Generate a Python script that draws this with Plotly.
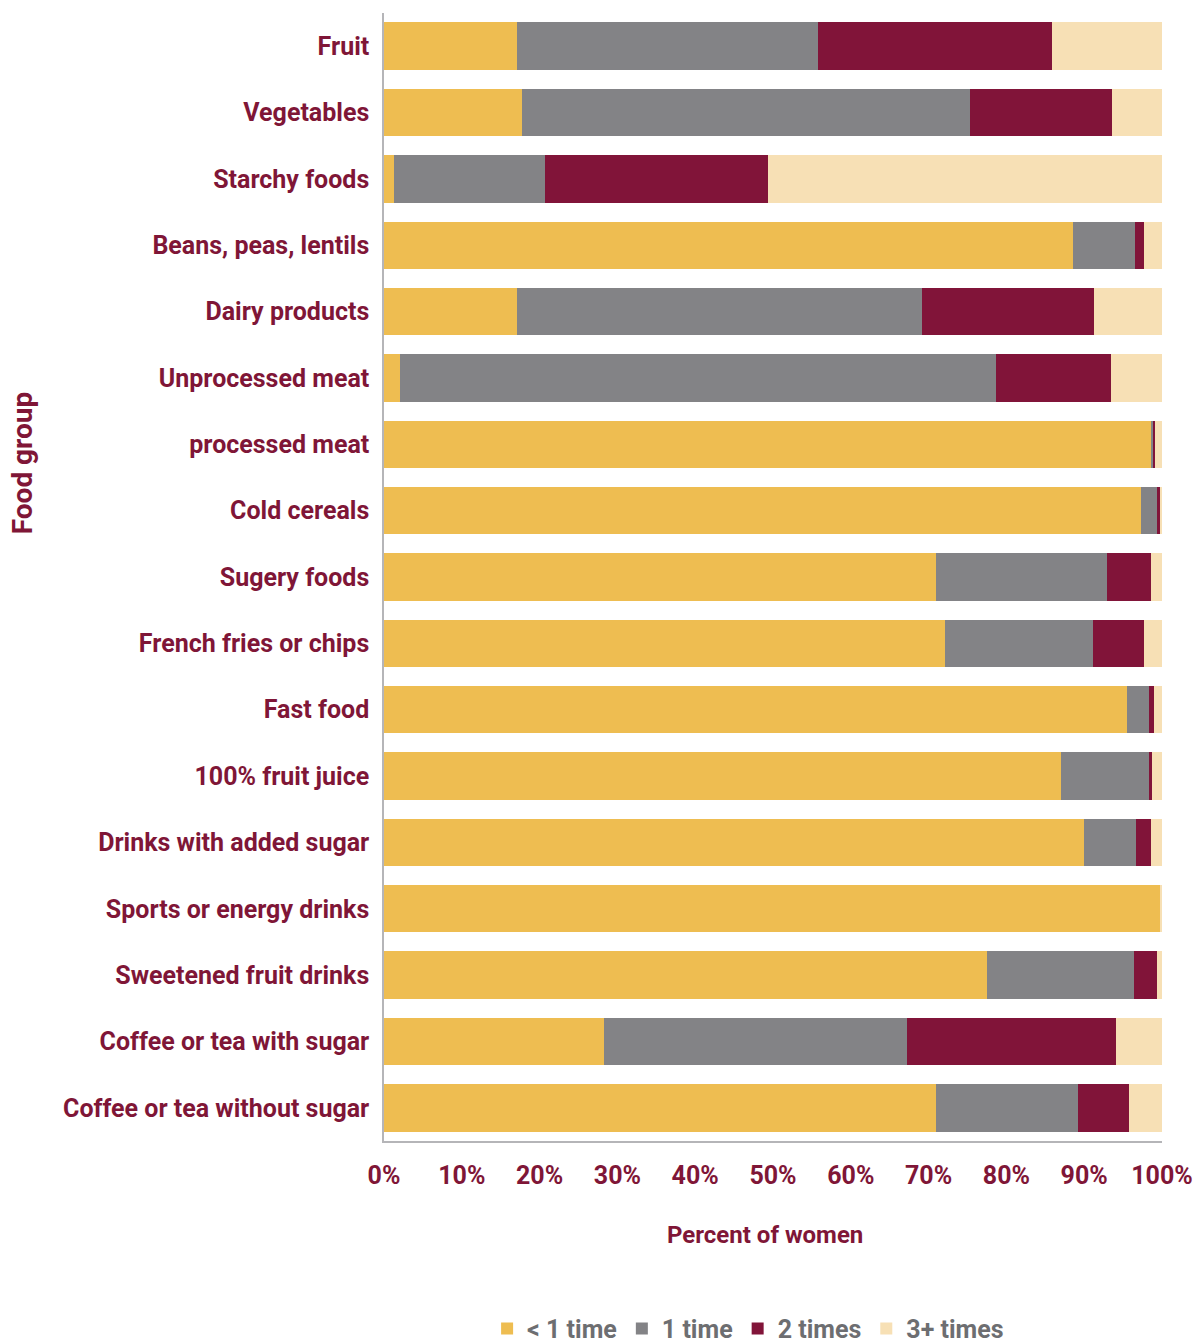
import plotly.graph_objects as go

# Food groups, top to bottom
food_groups = [
    "Fruit", "Vegetables", "Starchy foods", "Beans, peas, lentils",
    "Dairy products", "Unprocessed meat", "processed meat", "Cold cereals",
    "Sugery foods", "French fries or chips", "Fast food", "100% fruit juice",
    "Drinks with added sugar", "Sports or energy drinks",
    "Sweetened fruit drinks", "Coffee or tea with sugar",
    "Coffee or tea without sugar",
]

# Share of women (%) by how often each food group was eaten
less_than_once = [17.1, 17.8, 1.3, 88.6, 17.1, 2.1, 98.6, 97.3, 70.9, 72.1,
                  95.5, 87.0, 90.0, 99.7, 77.5, 28.3, 70.9]
once = [38.7, 57.5, 19.4, 7.9, 52.1, 76.5, 0.2, 2.1, 22.0, 19.0,
        2.8, 11.3, 6.6, 0.0, 18.9, 38.9, 18.3]
twice = [30.1, 18.3, 28.7, 1.2, 22.0, 14.8, 0.3, 0.3, 5.7, 6.6,
         0.7, 0.4, 2.0, 0.0, 2.9, 26.9, 6.6]
three_plus = [14.1, 6.4, 50.6, 2.3, 8.8, 6.6, 0.9, 0.3, 1.4, 2.3,
              1.0, 1.3, 1.4, 0.3, 0.7, 5.9, 4.2]

series_names = ["< 1 time", "1 time", "2 times", "3+ times"]
series_values = [less_than_once, once, twice, three_plus]
series_colors = ["#EEBD51", "#838386", "#811439", "#F7E0B5"]

tick_values = [0, 10, 20, 30, 40, 50, 60, 70, 80, 90, 100]
tick_labels = [f"{v}%" for v in tick_values]

FONT = "Roboto, Liberation Sans, Arial, sans-serif"
MAROON = "#7F1637"
AXIS_GREY = "#B5B5B8"
LABEL_SIZE = 25

fig = go.Figure()
for name, vals, color in zip(series_names, series_values, series_colors):
    fig.add_trace(go.Bar(
        y=food_groups, x=vals, name=name, orientation="h",
        marker=dict(color=color, line=dict(width=0)),
        hoverinfo="x+y+name",
    ))

fig.update_layout(
    barmode="stack",
    bargap=0.286,
    width=1204, height=1344,
    margin=dict(l=384, r=42, t=13, b=203, autoexpand=False),
    paper_bgcolor="white", plot_bgcolor="white",
    font=dict(family=FONT, size=LABEL_SIZE, color=MAROON, weight="bold"),
    showlegend=True,
    legend=dict(
        orientation="h", x=0.468, xanchor="center", y=-0.146, yanchor="top",
        font=dict(family=FONT, size=LABEL_SIZE, color="#6D6E71", weight="bold"),
        traceorder="normal", itemclick=False, itemdoubleclick=False,
        tracegroupgap=0,
    ),
)

fig.update_xaxes(
    range=[0, 100], tickvals=tick_values, ticktext=tick_labels,
    showgrid=False, zeroline=False,
    showline=True, linecolor=AXIS_GREY, linewidth=1.5,
    ticks="", ticklabelstandoff=11,
    tickfont=dict(family=FONT, size=LABEL_SIZE, color=MAROON, weight="bold"),
    fixedrange=True,
)
fig.update_yaxes(
    categoryorder="array", categoryarray=food_groups, autorange="reversed",
    showgrid=False, zeroline=False,
    showline=True, linecolor=AXIS_GREY, linewidth=1.5,
    ticks="", ticklabelstandoff=8,
    tickfont=dict(family=FONT, size=LABEL_SIZE, color=MAROON, weight="bold"),
    fixedrange=True,
)

# Axis titles
fig.add_annotation(
    text="Percent of women", xref="paper", yref="paper",
    x=0.4897, y=-0.0833, xanchor="center", yanchor="middle",
    showarrow=False, font=dict(family=FONT, size=24, color=MAROON, weight="bold"),
)
fig.add_annotation(
    text="Food group", xref="paper", yref="paper", textangle=-90,
    x=-0.465, y=0.601, xanchor="center", yanchor="middle",
    showarrow=False, font=dict(family=FONT, size=28, color=MAROON, weight="bold"),
)

fig.write_html("out.html")
